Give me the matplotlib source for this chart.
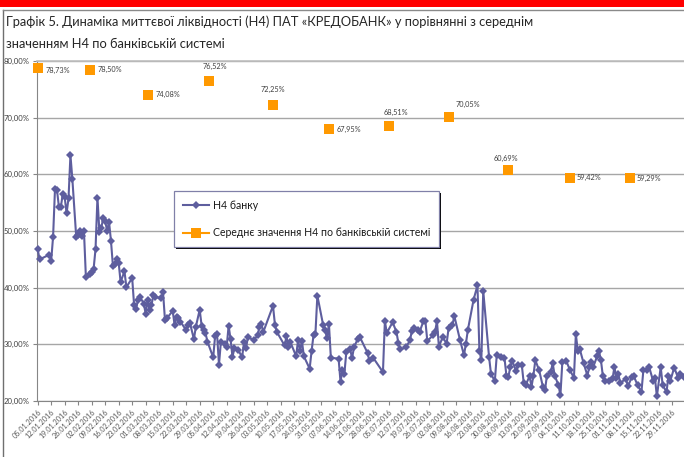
import numpy as np
import pandas as pd
import matplotlib
matplotlib.use('Agg')
import matplotlib.pyplot as plt
from matplotlib.lines import Line2D
from matplotlib.patches import Rectangle
from matplotlib.ticker import FuncFormatter

plt.rcParams['font.family'] = ['Lato', 'DejaVu Sans']

# ---------------- data ----------------
start_date = '2016-01-05'
# observation day number since 05.01.2016
day_offsets = [0, 1, 6, 7, 8, 9, 10, 11, 12, 13, 14, 15, 16, 17, 18, 20, 21, 22, 23, 24,
               25, 27, 28, 29, 30, 31, 32, 33, 34, 35, 36, 37, 38, 39, 40, 41, 42, 43, 45, 46,
               49, 50, 51, 52, 53, 55, 56, 57, 58, 59, 60, 61, 64, 65, 66, 67, 70, 71, 72, 73,
               74, 77, 78, 79, 81, 82, 84, 85, 86, 87, 88, 91, 92, 93, 94, 95, 97, 98, 99, 100,
               101, 102, 104, 106, 107, 108, 109, 112, 114, 115, 116, 117, 122, 123, 124, 128, 129, 130, 131, 134,
               135, 136, 137, 138, 141, 142, 143, 144, 145, 148, 149, 150, 151, 152, 156, 157, 158, 159, 160, 162,
               163, 164, 166, 167, 171, 172, 174, 179, 180, 181, 184, 186, 187, 188, 191, 193, 194, 195, 197, 198,
               200, 201, 202, 205, 206, 207, 208, 210, 212, 213, 215, 216, 219, 221, 222, 223, 226, 228, 229, 230,
               231, 234, 235, 237, 238, 240, 242, 243, 244, 245, 246, 248, 249, 251, 252, 253, 255, 256, 257, 258,
               260, 262, 263, 264, 266, 267, 268, 270, 271, 272, 274, 276, 278, 279, 280, 281, 283, 285, 286, 287,
               288, 290, 291, 292, 293, 294, 296, 298, 299, 300, 301, 302, 305, 306, 308, 309, 311, 313, 314, 316,
               317, 319, 320, 321, 323, 324, 326, 327, 328, 330, 332, 333, 335]
bank_h4 = [46.8, 45.0, 45.8, 44.7, 49.0, 57.5, 57.3, 54.3, 54.2, 56.5, 56.0, 53.1, 55.8, 63.4, 59.1, 48.9, 49.3, 50.0, 49.2, 50.0,
           41.9, 42.5, 42.7, 43.3, 46.8, 55.9, 49.9, 50.6, 52.3, 51.8, 50.0, 51.6, 48.3, 43.9, 44.2, 45.0, 44.4, 41.0, 42.9, 40.1,
           41.7, 36.9, 36.3, 37.8, 38.4, 37.2, 35.4, 37.8, 36.0, 36.9, 38.7, 38.4, 38.1, 39.2, 34.3, 34.6, 35.9, 33.4, 34.9, 34.6,
           34.0, 32.5, 33.4, 33.7, 30.9, 33.1, 36.1, 33.3, 32.5, 32.0, 30.5, 27.7, 31.5, 31.8, 26.4, 30.5, 30.0, 29.6, 33.3, 30.9,
           27.8, 29.3, 29.0, 27.7, 30.5, 29.3, 31.3, 30.7, 31.6, 33.1, 33.6, 32.2, 36.8, 33.5, 32.2, 29.8, 31.4, 29.5, 30.4, 27.9,
           30.8, 28.9, 30.6, 27.9, 25.7, 28.8, 31.6, 31.9, 38.6, 33.4, 32.5, 31.1, 33.6, 27.6, 27.5, 23.4, 25.4, 24.8, 28.6, 29.1,
           27.6, 29.5, 31.0, 31.3, 28.5, 27.1, 27.6, 25.1, 34.1, 32.0, 33.9, 32.2, 30.2, 29.1, 29.5, 30.7, 32.4, 32.9, 32.6, 32.2,
           34.1, 34.1, 30.6, 31.6, 32.2, 34.1, 29.6, 31.3, 30.1, 32.8, 33.4, 35.0, 30.7, 28.1, 30.1, 32.5, 37.9, 40.4, 28.9, 27.2,
           39.4, 27.8, 24.8, 23.5, 28.1, 27.8, 27.6, 24.5, 24.2, 26.0, 27.1, 25.3, 26.3, 26.3, 23.1, 22.8, 24.4, 22.5, 24.5, 27.2,
           25.4, 22.4, 21.9, 24.5, 25.1, 26.7, 24.5, 22.8, 21.0, 26.9, 27.1, 25.4, 24.1, 31.8, 28.9, 29.2, 26.7, 24.5, 26.0, 26.9,
           26.0, 27.9, 28.8, 27.2, 24.4, 23.6, 23.6, 23.9, 26.0, 24.1, 24.8, 23.2, 23.9, 22.6, 24.2, 24.4, 22.8, 21.6, 25.4, 25.4,
           26.0, 23.6, 24.1, 20.8, 26.0, 22.8, 21.6, 24.4, 23.6, 25.9, 24.1, 24.8, 24.2]

avg_dates = ['2016-01-05', '2016-02-01', '2016-03-02', '2016-04-03', '2016-05-06', '2016-06-04',
             '2016-07-05', '2016-08-05', '2016-09-05', '2016-10-07', '2016-11-07']
avg_h4 = [78.73, 78.50, 74.08, 76.52, 72.25, 67.95, 68.51, 70.05, 60.69, 59.42, 59.29]

tick_first = '2016-01-05'
tick_last = '2016-11-29'
yticks = [20, 30, 40, 50, 60, 70, 80]

title_lines = ['Графік 5. Динаміка миттєвої ліквідності (Н4) ПАТ «КРЕДОБАНК» у порівнянні з середнім',
               'значенням Н4 по банківській системі']
legend_labels = ['Н4 банку', 'Середнє значення Н4 по банківській системі']

# label placement for the average values (pixel offsets, alignment)
label_offsets = [(8, -2, 'left'), (8, 0, 'left'), (8, 0, 'left'), (6, 14, 'center'),
                 (0, 15, 'center'), (8, 0, 'left'), (7, 14, 'center'), (19, 13, 'center'),
                 (-2, 12, 'center'), (7, 0, 'left'), (7, 0, 'left')]

# ---------------- figure ----------------
W, H = 684, 457
fig = plt.figure(figsize=(W / 100, H / 100), dpi=100)

def fx(x):
    return x / W

def fy(y):
    return 1 - y / H

# red band + frame
fig.add_artist(Rectangle((0, fy(7)), 1, 7 / H, transform=fig.transFigure,
                         color='#FF0000', lw=0, zorder=0))
fig.add_artist(Line2D([fx(3), fx(3)], [0, fy(10)], transform=fig.transFigure,
                      color='#6f6f6f', lw=1.0))
fig.add_artist(Line2D([fx(3), 1], [fy(10), fy(10)], transform=fig.transFigure,
                      color='#8a8a8a', lw=1.0))

fig.text(fx(6), fy(22), title_lines[0], fontsize=9.3, color='#262626', va='center', ha='left')
fig.text(fx(6), fy(44), title_lines[1], fontsize=9.3, color='#262626', va='center', ha='left')

ax_w = 660
px_per_day = 1.929
ax = fig.add_axes([fx(36.5), (H - 401) / H, ax_w / W, 340 / H])

start = pd.Timestamp(start_date)
bank_dates = start + pd.to_timedelta(day_offsets, unit='D')
blue = '#5E5E9E'
orange = '#FF9900'

ax.plot(bank_dates, bank_h4, color=blue, lw=1.5, marker='D', ms=3.6,
        markeredgewidth=0, zorder=3, clip_on=False)
avg_dt = pd.to_datetime(avg_dates)
ax.plot(avg_dt, avg_h4, ls='none', marker='s', ms=7.5, color=orange,
        markeredgewidth=0, zorder=4, clip_on=False)

for d, v, (dx, dy, ha) in zip(avg_dt, avg_h4, label_offsets):
    ax.annotate(f'{v:.2f}'.replace('.', ',') + '%', (d, v), xytext=(dx, dy),
                textcoords='offset pixels', ha=ha, va='center', fontsize=5.3,
                color='#404040', zorder=5)

x0 = start - pd.Timedelta(days=0.6)
ax.set_xlim(x0, x0 + pd.Timedelta(days=ax_w / px_per_day))
ax.set_ylim(20, 80)

ticks = pd.date_range(tick_first, tick_last, freq='7D')
ax.set_xticks(ticks)
ax.set_xticklabels([t.strftime('%d.%m.%Y') for t in ticks], rotation=45,
                   ha='right', va='top', rotation_mode='anchor', fontsize=5.2, color='#595959')
ax.set_yticks(yticks)
ax.yaxis.set_major_formatter(FuncFormatter(lambda v, p: f'{v:.2f}'.replace('.', ',') + '%'))
ax.tick_params(axis='y', labelsize=5.6, labelcolor='#404040', length=3, color='#868686', pad=2)
ax.tick_params(axis='x', length=3, color='#868686', pad=2)

ax.yaxis.grid(True, color='#a6a6a6', lw=1.0)
ax.set_axisbelow(True)
ax.spines['right'].set_visible(False)
ax.spines['top'].set_color('#bdbdbd')
ax.spines['top'].set_linewidth(1.2)
ax.spines['left'].set_color('#868686')
ax.spines['bottom'].set_color('#868686')

handles = [Line2D([], [], color=blue, lw=1.5, marker='D', ms=4, markeredgewidth=0),
           Line2D([], [], color=orange, lw=1.5, marker='s', ms=7, markeredgewidth=0)]
leg = fig.legend(handles, legend_labels, loc='upper left',
                 bbox_to_anchor=(fx(174), fy(191)), bbox_transform=fig.transFigure,
                 fontsize=7.6, frameon=True, fancybox=False, borderaxespad=0,
                 labelspacing=1.55, handlelength=2.5, handletextpad=0.35,
                 borderpad=0.85, labelcolor='#1a1a1a', framealpha=1.0, facecolor='white')
leg.get_frame().set_edgecolor('#8080a8')
leg.get_frame().set_linewidth(0.9)
leg.set_zorder(10)

fig.canvas.draw()
bb = leg.get_window_extent()
shadow = Rectangle((bb.x0 + 2, bb.y0 - 2), bb.width, bb.height, transform=None,
                   facecolor='black', edgecolor='none', zorder=9)
fig.add_artist(shadow)

fig.savefig('out.png', dpi=100)
